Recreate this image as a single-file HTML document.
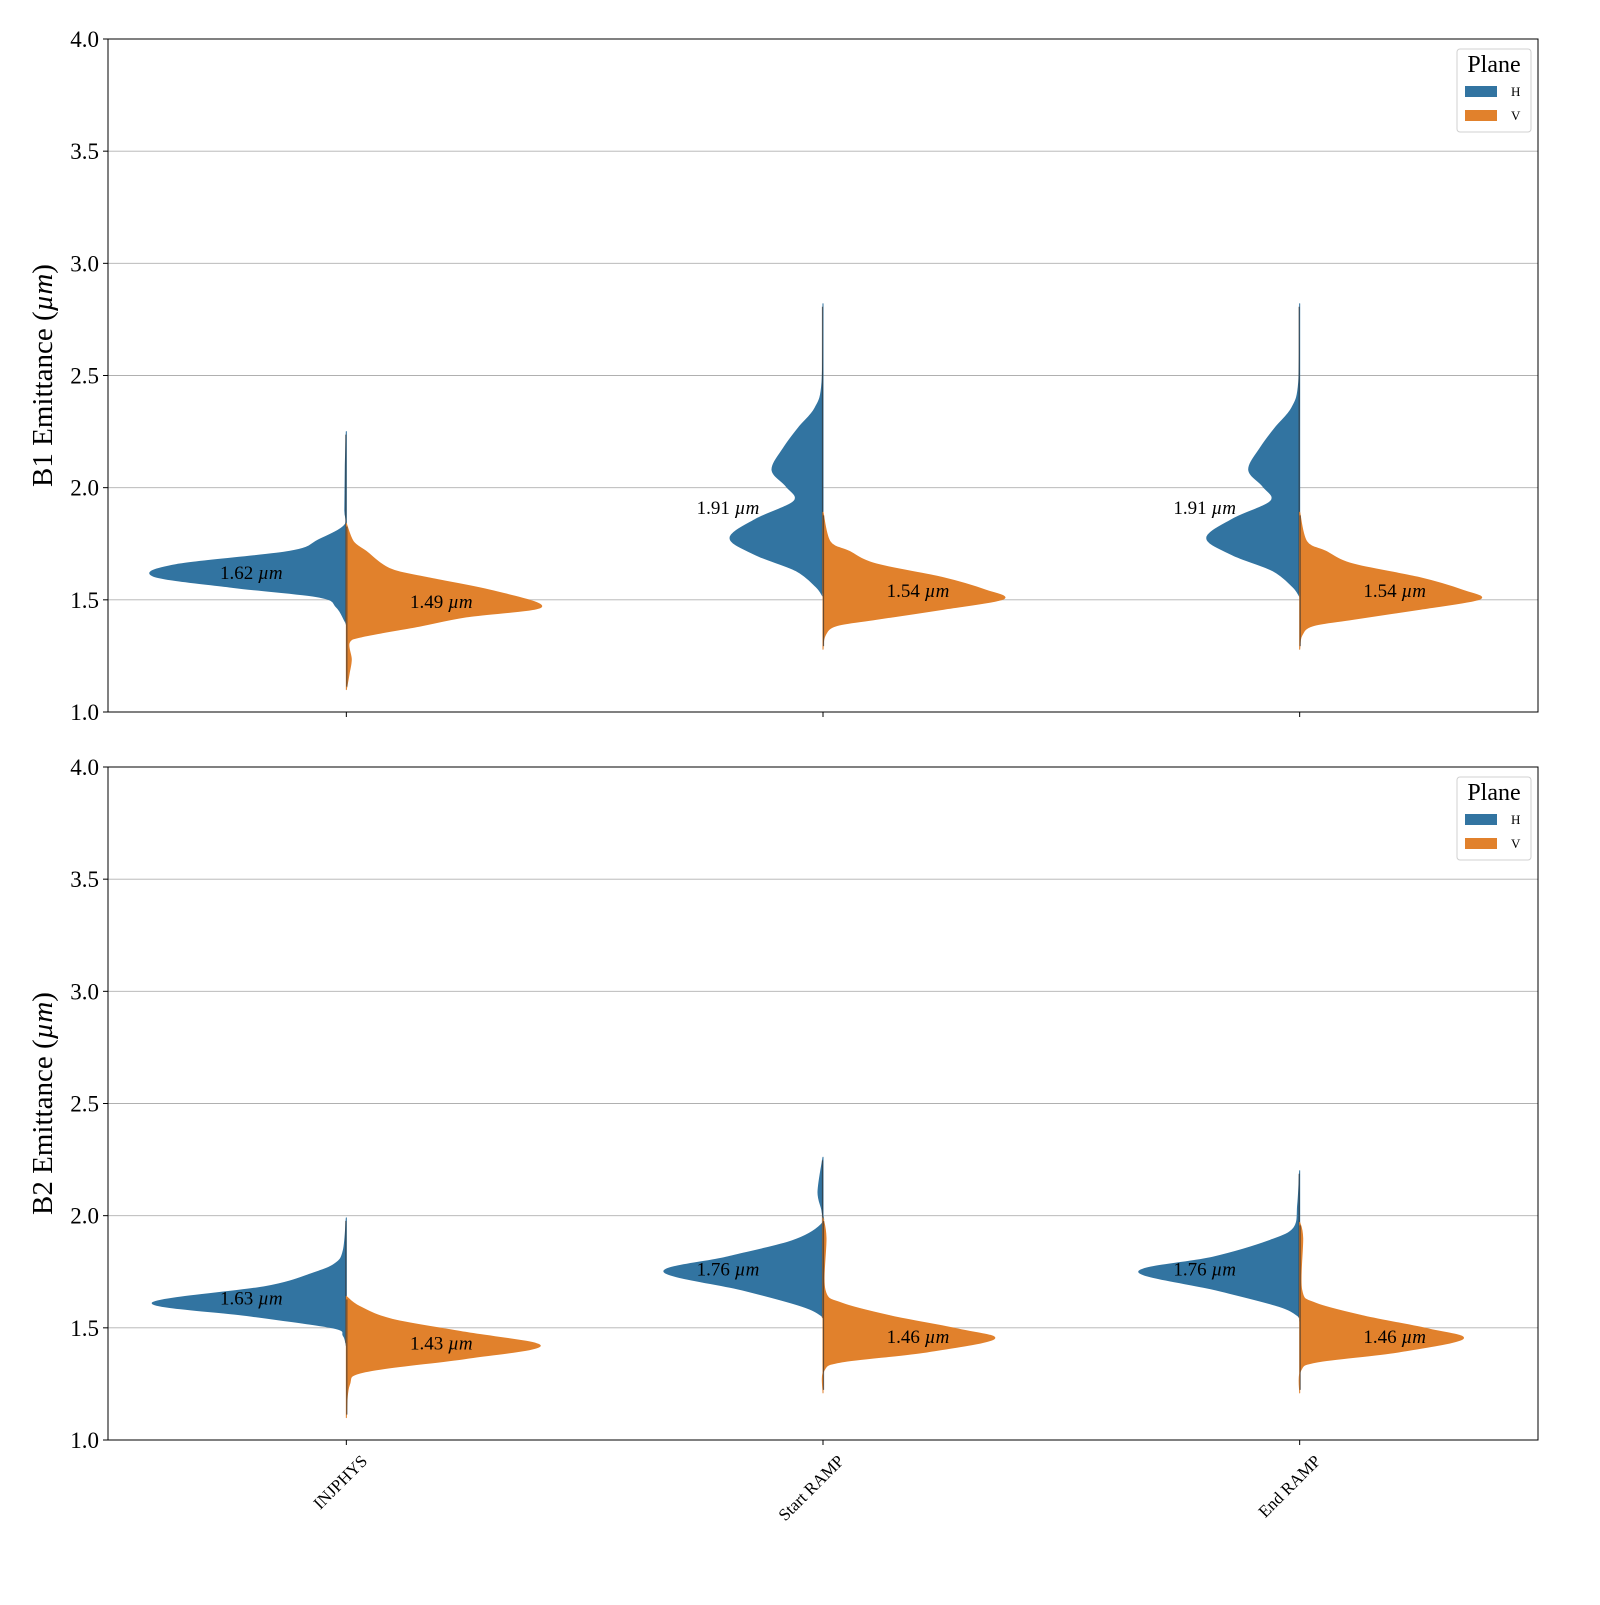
<!DOCTYPE html>
<html><head><meta charset="utf-8"><style>
body{margin:0;background:#fff}
svg text{font-family:"Liberation Serif","DejaVu Serif",serif}
</style></head><body>
<svg id="chart" width="1600" height="1600" xmlns="http://www.w3.org/2000/svg"></svg>
<script>
const categories = ["INJPHYS","Start RAMP","End RAMP"];
const yTicks = [1.0,1.5,2.0,2.5,3.0,3.5,4.0];
const yTickLabels = ["1.0","1.5","2.0","2.5","3.0","3.5","4.0"];
const panelNames = ["B1","B2"];
// medians printed
const b1Medians = {H:[1.62,1.91,1.91], V:[1.49,1.54,1.54]};
const b2Medians = {H:[1.63,1.76,1.76], V:[1.43,1.46,1.46]};
// density profiles: [emittance, density]
const b1H_inj = [[2.25,0],[2.1,1],[1.9,1.5],[1.832,2],[1.767,28],[1.716,57],[1.657,170],[1.606,193],[1.555,113],[1.512,27],[1.468,10],[1.41,2],[1.39,0]];
const b1V_inj = [[1.84,0],[1.76,7],[1.716,20],[1.64,43],[1.60,80],[1.54,147],[1.468,195],[1.424,120],[1.38,70],[1.337,17],[1.31,3],[1.235,5],[1.176,3],[1.10,0]];
const b1H_ramp = [[2.82,0],[2.47,1],[2.355,8],[2.27,24],[2.18,39],[2.08,51],[2.007,37],[1.94,29],[1.86,67],[1.775,93],[1.70,67],[1.63,27],[1.558,7],[1.515,0]];
const b1V_ramp = [[1.89,0],[1.76,7],[1.717,26],[1.66,53],[1.60,119],[1.543,163],[1.503,180],[1.457,119],[1.413,53],[1.384,13],[1.34,2],[1.28,0]];
const b2H_inj = [[1.99,0],[1.845,3],[1.787,11],[1.743,34],[1.684,81],[1.611,194],[1.553,97],[1.50,14],[1.465,3],[1.42,0]];
const b2V_inj = [[1.64,0],[1.596,13],[1.538,46],[1.48,119],[1.42,194],[1.363,119],[1.304,19],[1.245,3],[1.10,0]];
const b2H_start = [[2.26,0],[2.106,5],[2.02,1],[1.96,2],[1.888,31],[1.815,97],[1.75,159],[1.669,81],[1.596,21],[1.552,1],[1.53,0]];
const b2V_start = [[1.99,0],[1.9,3],[1.669,2],[1.61,19],[1.552,69],[1.494,136],[1.45,171],[1.392,103],[1.348,19],[1.31,1],[1.21,0]];
const b2H_end = [[2.2,0],[2.05,2],[1.945,6],[1.888,31],[1.815,87],[1.75,161],[1.669,84],[1.596,21],[1.55,1],[1.53,0]];
const b2V_end = [[1.97,0],[1.9,3],[1.669,2],[1.61,16],[1.552,65],[1.494,130],[1.45,163],[1.392,98],[1.348,18],[1.31,1],[1.21,0]];

const panels = [
 {name:"B1", top:39, bottom:712, H:[b1H_inj,b1H_ramp,b1H_ramp], V:[b1V_inj,b1V_ramp,b1V_ramp], med:b1Medians},
 {name:"B2", top:767, bottom:1440, H:[b2H_inj,b2H_start,b2H_end], V:[b2V_inj,b2V_start,b2V_end], med:b2Medians}
];
const NS="http://www.w3.org/2000/svg";
const svg=document.getElementById('chart');
const L=108,R=1538;
const colH="#3274a1", colV="#e1812c";
function xPos(i){return L+(R-L)*(i+0.5)/categories.length;}
function mk(tag,attrs,parent){const e=document.createElementNS(NS,tag);for(const k in attrs)e.setAttribute(k,attrs[k]);(parent||svg).appendChild(e);return e;}
function smooth(pts){
  let d='M'+pts[0][0].toFixed(1)+','+pts[0][1].toFixed(1);
  for(let i=0;i<pts.length-1;i++){
    const p0=pts[Math.max(0,i-1)],p1=pts[i],p2=pts[i+1],p3=pts[Math.min(pts.length-1,i+2)];
    const c1=[p1[0]+(p2[0]-p0[0])/6,p1[1]+(p2[1]-p0[1])/6];
    const c2=[p2[0]-(p3[0]-p1[0])/6,p2[1]-(p3[1]-p1[1])/6];
    d+=' C'+c1[0].toFixed(1)+','+c1[1].toFixed(1)+' '+c2[0].toFixed(1)+','+c2[1].toFixed(1)+' '+p2[0].toFixed(1)+','+p2[1].toFixed(1);
  }
  return d;
}
panels.forEach((p,pi)=>{
  const y=v=>p.bottom-(v-1)/3*(p.bottom-p.top);
  const g=mk('g',{});
  
  
  yTicks.forEach((t,ti)=>{
    if(ti>0&&ti<yTicks.length-1){const gl=mk('line',{x1:L,x2:R,y1:y(t),y2:y(t),stroke:'#b0b0b0','stroke-width':0.9},g);
      
      }
    mk('line',{x1:L-5,x2:L,y1:y(t),y2:y(t),stroke:'#000','stroke-width':1},g);
    const tl=mk('text',{x:L-9,y:y(t)+8,'text-anchor':'end','font-size':23},g);
    tl.textContent=yTickLabels[ti];
    
    
  });
  categories.forEach((c,ci)=>{
    const cx=xPos(ci);
    mk('line',{x1:cx,x2:cx,y1:p.bottom,y2:p.bottom+5,stroke:'#000','stroke-width':1},g);
    ['H','V'].forEach(side=>{
      const prof=p[side][ci]; const dir=side==='H'?-1:1;
      const pts=prof.map(pt=>[cx+dir*pt[1],y(pt[0])]);
      const d=smooth(pts)+' L'+cx+','+y(prof[prof.length-1][0]).toFixed(1)+' L'+cx+','+y(prof[0][0]).toFixed(1)+' Z';
      const path=mk('path',{d:d,fill:side==='H'?colH:colV,stroke:side==='H'?colH:colV,'stroke-width':1,'stroke-linejoin':'round'},g);
      
      
      const st=mk('line',{x1:cx+dir*0.5,x2:cx+dir*0.5,y1:y(prof[0][0])+3,y2:y(prof[prof.length-1][0])-3,stroke:'#333','stroke-width':1.2,opacity:0.7},g);
      
      
      const m=p.med[side][ci];
      const lt=mk('text',{x:cx+dir*95,y:y(m)+6,'text-anchor':'middle','font-size':19},g);
      lt.innerHTML=m.toFixed(2)+' <tspan font-style="italic">µm</tspan>';
      
      
    });
    if(pi===1){
      const xt=mk('text',{x:cx+22,y:p.bottom+22,'text-anchor':'end','font-size':17,transform:'rotate(-45 '+(cx+22)+' '+(p.bottom+22)+')'},g);
      xt.textContent=c;
      
      
    }
  });
  mk('rect',{x:L,y:p.top,width:R-L,height:p.bottom-p.top,fill:'none',stroke:'#000','stroke-width':1},g);
  const yl=mk('text',{x:0,y:0,'text-anchor':'middle','font-size':29,transform:'translate(52 '+((p.top+p.bottom)/2)+') rotate(-90)'},g);
  yl.innerHTML=p.name+' Emittance (<tspan font-style="italic">µm</tspan>)';
  
  
  const lg=mk('g',{},g);
  
  
  const ly=p.top+10;
  mk('rect',{x:1457,y:ly,width:74,height:83,rx:3,fill:'#fff',stroke:'#d0d0d0','stroke-width':1},lg);
  const ttl=mk('text',{x:1494,y:ly+23,'text-anchor':'middle','font-size':24},lg);
  ttl.textContent='Plane';
  [['H',colH],['V',colV]].forEach((e,ei)=>{
    const ent=mk('g',{},lg);
    
    
    mk('rect',{x:1465,y:ly+37+ei*24,width:32,height:11,fill:e[1]},ent);
    const t=mk('text',{x:1511,y:ly+47+ei*24,'font-size':13},ent);
    t.textContent=e[0];
  });
});
</script>
</body></html>
